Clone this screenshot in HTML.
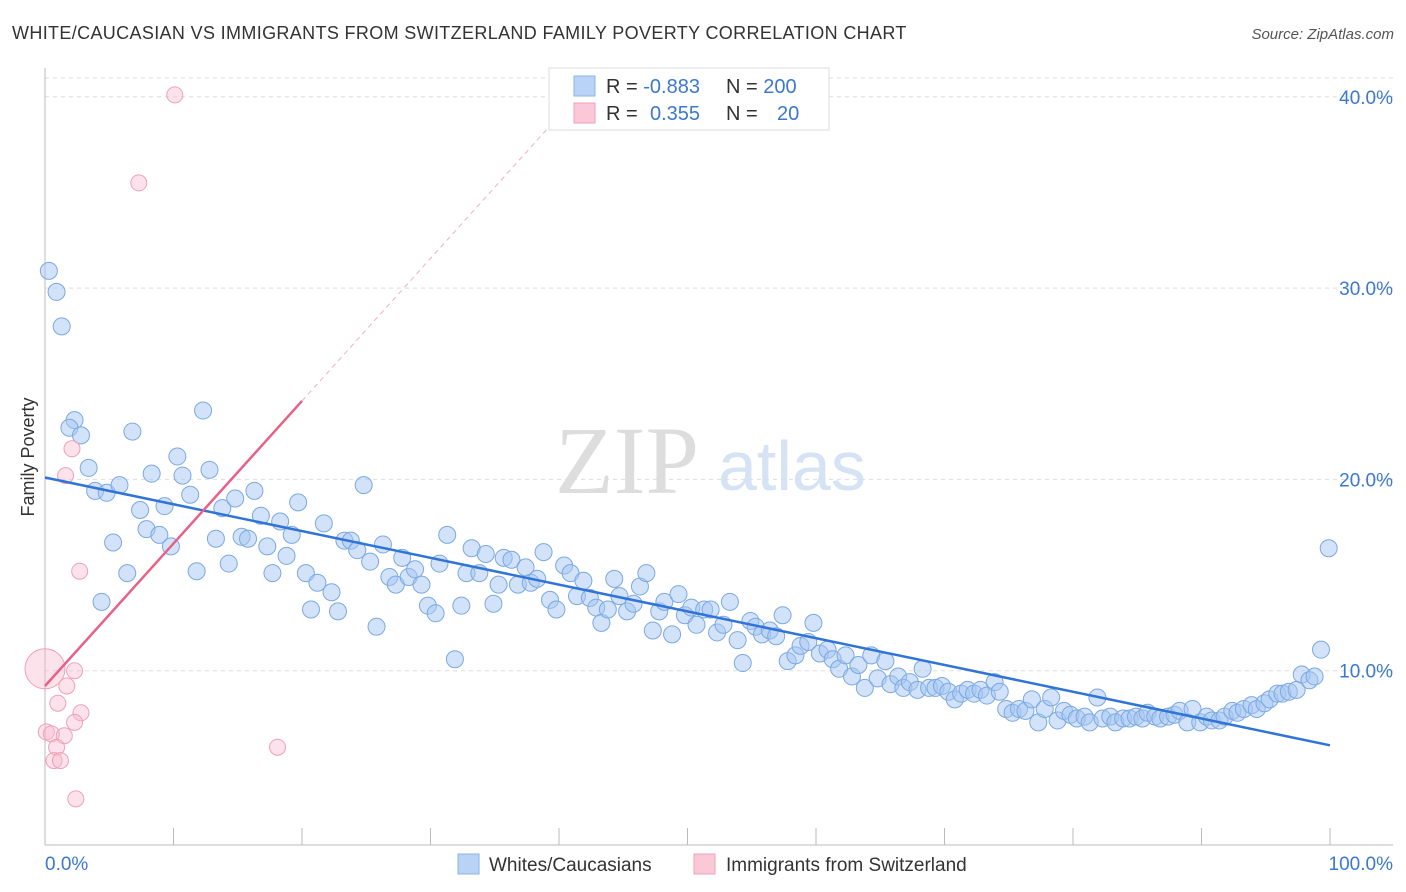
<!DOCTYPE html>
<html><head><meta charset="utf-8">
<style>
body{margin:0;background:#fff;font-family:"Liberation Sans",sans-serif;}
svg{display:block}
</style></head>
<body>
<svg id="chart" width="1406" height="892" xmlns="http://www.w3.org/2000/svg">
<text x="12" y="39" font-size="18" fill="#333" letter-spacing="0.35" font-family="Liberation Sans">WHITE/CAUCASIAN VS IMMIGRANTS FROM SWITZERLAND FAMILY POVERTY CORRELATION CHART</text>
<text x="1394" y="39" font-size="15" fill="#555" text-anchor="end" font-style="italic">Source: ZipAtlas.com</text>
<g>
<text x="555" y="493" font-size="96" fill="#ddd" font-family="Liberation Serif">ZIP</text>
<text x="718" y="490" font-size="70" fill="#d5e3f5">atlas</text>
</g>
<g id="grid"></g><g id="axes"></g><g id="marks"></g>
<text transform="translate(34,457) rotate(-90)" font-size="18" fill="#333" text-anchor="middle">Family Poverty</text>
<g>
<rect x="549" y="68" width="280" height="62" fill="#fff" stroke="#ddd"/>
<rect x="574" y="76" width="21" height="20" fill="#b8d3f5" stroke="#8ab4e8"/>
<rect x="574" y="103" width="21" height="20" fill="#fac8d6" stroke="#f0a0b8"/>
<text x="606" y="93" font-size="20" fill="#333">R = <tspan fill="#3c78d0">-0.883</tspan></text>
<text x="726" y="93" font-size="20" fill="#333">N = <tspan fill="#3c78d0">200</tspan></text>
<text x="606" y="120" font-size="20" fill="#333">R = <tspan fill="#3c78d0" x="650">0.355</tspan></text>
<text x="726" y="120" font-size="20" fill="#333">N = <tspan fill="#3c78d0" x="777">20</tspan></text>
</g>
<g>
<rect x="458" y="854" width="21" height="20" fill="#b8d3f5" stroke="#8ab4e8"/>
<text x="489" y="871" font-size="19" fill="#333">Whites/Caucasians</text>
<rect x="694" y="854" width="21" height="20" fill="#fac8d6" stroke="#f0a0b8"/>
<text x="726" y="871" font-size="19" fill="#333">Immigrants from Switzerland</text>
</g>
</svg>
<script>
const yTicks=[10,20,30,40];
const yTickLabels=["10.0%","20.0%","30.0%","40.0%"];
const xTicks=[0,10,20,30,40,50,60,70,80,90,100];
const blueX=[0.3,0.9,1.3,2.3,1.9,2.8,3.4,3.9,4.8,5.8,5.3,6.4,4.4,7.4,6.8,7.9,8.3,8.9,9.3,9.8,10.3,10.7,11.3,11.8,12.3,12.8,13.3,13.8,14.3,14.8,15.3,15.8,16.3,16.8,17.3,17.7,18.3,18.8,19.2,19.7,20.3,20.7,21.2,21.7,22.3,22.8,23.3,23.8,24.3,24.8,25.3,25.8,26.3,26.8,27.3,27.8,28.3,28.8,29.3,29.8,30.4,30.7,31.3,31.9,32.4,32.8,33.2,33.8,34.3,34.9,35.3,35.7,36.3,36.8,37.4,37.8,38.3,38.8,39.3,39.8,40.4,40.9,41.4,41.9,42.4,42.9,43.3,43.8,44.3,44.7,45.3,45.8,46.3,46.8,47.3,47.8,48.2,48.8,49.3,49.8,50.3,50.7,51.3,51.8,52.3,52.8,53.3,53.9,54.3,54.9,55.3,55.8,56.4,56.9,57.4,57.8,58.4,58.8,59.4,59.8,60.3,60.9,61.3,61.8,62.3,62.8,63.3,63.8,64.3,64.8,65.4,65.8,66.4,66.8,67.3,67.9,68.3,68.8,69.3,69.8,70.3,70.8,71.3,71.8,72.3,72.8,73.3,73.9,74.3,74.8,75.3,75.8,76.3,76.8,77.3,77.8,78.3,78.8,79.3,79.8,80.3,80.9,81.3,81.9,82.3,82.9,83.3,83.9,84.4,84.9,85.4,85.8,86.4,86.8,87.4,87.9,88.3,88.9,89.3,89.9,90.4,90.8,91.4,91.8,92.4,92.8,93.3,93.9,94.3,94.9,95.3,95.9,96.3,96.8,97.4,97.8,98.4,98.8,99.3,99.9];
const blueY=[30.9,29.8,28.0,23.1,22.7,22.3,20.6,19.4,19.3,19.7,16.7,15.1,13.6,18.4,22.5,17.4,20.3,17.1,18.6,16.5,21.2,20.2,19.2,15.2,23.6,20.5,16.9,18.5,15.6,19.0,17.0,16.9,19.4,18.1,16.5,15.1,17.8,16.0,17.1,18.8,15.1,13.2,14.6,17.7,14.1,13.1,16.8,16.8,16.3,19.7,15.7,12.3,16.6,14.9,14.5,15.9,14.9,15.3,14.5,13.4,13.0,15.6,17.1,10.6,13.4,15.1,16.4,15.1,16.1,13.5,14.5,15.9,15.8,14.5,15.4,14.6,14.8,16.2,13.7,13.2,15.5,15.1,13.9,14.7,13.8,13.3,12.5,13.2,14.8,13.9,13.1,13.5,14.4,15.1,12.1,13.1,13.6,11.9,14.0,12.9,13.3,12.4,13.2,13.2,12.0,12.4,13.6,11.6,10.4,12.6,12.3,11.9,12.1,11.8,12.9,10.5,10.8,11.3,11.5,12.5,10.9,11.1,10.6,10.1,10.8,9.7,10.3,9.1,10.8,9.6,10.5,9.3,9.7,9.1,9.4,9.0,10.1,9.1,9.1,9.2,8.9,8.5,8.8,9.0,8.8,9.0,8.7,9.4,8.9,8.0,7.8,8.0,7.9,8.5,7.3,8.0,8.6,7.4,7.9,7.7,7.5,7.6,7.3,8.6,7.5,7.6,7.3,7.5,7.5,7.6,7.5,7.8,7.6,7.5,7.6,7.7,7.9,7.3,8.0,7.3,7.6,7.4,7.4,7.6,7.9,7.8,8.0,8.2,8.0,8.3,8.5,8.8,8.8,8.9,9.0,9.8,9.5,9.7,11.1,16.4];
const pinkX=[10.1,7.3,2.1,1.6,2.7,0,2.3,1.0,1.7,2.8,2.3,0.1,0.5,1.5,0.9,0.7,1.2,2.4,18.1];
const pinkY=[40.1,35.5,21.6,20.2,15.2,10.1,10.0,8.3,9.2,7.8,7.3,6.8,6.7,6.6,6.0,5.3,5.3,3.3,6.0];
const blueTrend=[20.1,6.1];
const pinkTrend=[9.2,0.745];
const NS='http://www.w3.org/2000/svg';
const X=v=>45+v*12.85;
const Y=v=>862-v*19.13;
function mk(tag,attrs,parent){const e=document.createElementNS(NS,tag);for(const k in attrs)e.setAttribute(k,attrs[k]);document.getElementById(parent).appendChild(e);return e;}
let g=mk('line',{x1:45,x2:1393,y1:78,y2:78,stroke:'#ddd','stroke-dasharray':'4,4'},'grid');


yTicks.forEach((t,i)=>{
 const l=mk('line',{x1:45,x2:1393,y1:Y(t),y2:Y(t),stroke:'#ddd','stroke-dasharray':'4,4'},'grid');
 
 
 const tx=mk('text',{x:1393,y:Y(t)+7,'font-size':19,fill:'#3c78d0','text-anchor':'end'},'axes');
 tx.textContent=yTickLabels[i];
 
 
});
let a=mk('line',{x1:45,x2:1393,y1:845,y2:845,stroke:'#bbb'},'axes');


let b=mk('line',{x1:45,x2:45,y1:68,y2:845,stroke:'#bbb'},'axes');


xTicks.forEach(t=>{
 const l=mk('line',{x1:X(t),x2:X(t),y1:828,y2:845,stroke:'#bbb'},'axes');
 
 
});
let x0=mk('text',{x:45,y:870,'font-size':19,fill:'#3c78d0'},'axes');x0.textContent='0.0%';


let x1=mk('text',{x:1393,y:870,'font-size':19,fill:'#3c78d0','text-anchor':'end'},'axes');x1.textContent='100.0%';


blueX.forEach((v,i)=>{
 const c=mk('circle',{cx:X(v),cy:Y(blueY[i]),r:8.5,fill:'rgba(165,198,242,0.5)',stroke:'#7ba9e2','stroke-width':1},'marks');
 
 
});
pinkX.forEach((v,i)=>{
 const c=mk('circle',{cx:X(v),cy:Y(pinkY[i]),r:i==5?20:8,fill:'rgba(248,185,205,0.4)',stroke:'#f0a0b8','stroke-width':1},'marks');
 
 
});
let bt=mk('line',{x1:X(0),y1:Y(blueTrend[0]),x2:X(100),y2:Y(blueTrend[1]),stroke:'#2f74d6','stroke-width':2.5},'marks');


let pt=mk('line',{x1:X(0),y1:Y(pinkTrend[0]),x2:X(20),y2:Y(pinkTrend[0]+20*pinkTrend[1]),stroke:'#e8608a','stroke-width':2.5},'marks');


let pd=mk('line',{x1:X(20),y1:Y(pinkTrend[0]+20*pinkTrend[1]),x2:X(40.4),y2:Y(pinkTrend[0]+40.4*pinkTrend[1]),stroke:'#f0b0c4','stroke-width':1,'stroke-dasharray':'5,4'},'marks');


</script>
</body></html>
